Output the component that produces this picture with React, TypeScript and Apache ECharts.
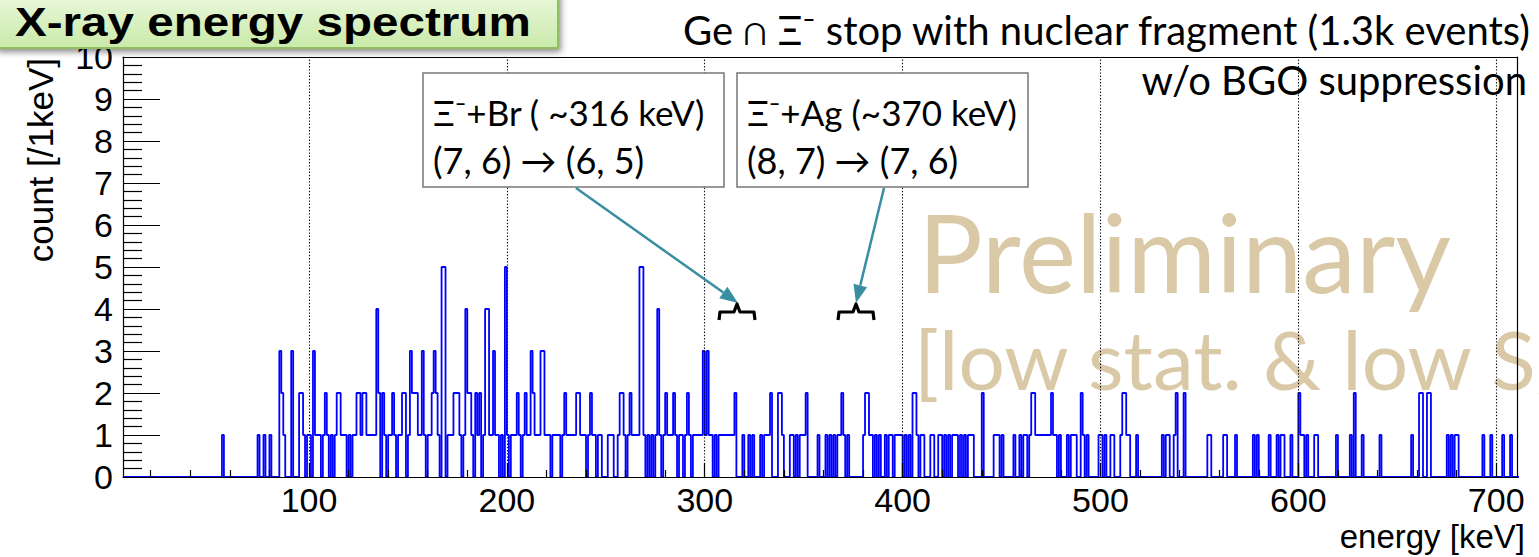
import React, { useEffect, useRef } from "react";
import * as echarts from "echarts";

const X_MIN = 6;
const X_MAX = 710.5;
const Y_MIN = 0;
const Y_MAX = 10;

const majorTicksKeV = [100, 200, 300, 400, 500, 600, 700];
const minorTicksKeV = [
  20, 40, 60, 80, 120, 140, 160, 180, 220, 240, 260, 280, 320, 340, 360, 380,
  420, 440, 460, 480, 520, 540, 560, 580, 620, 640, 660, 680,
];

// non-empty 1 keV bins (left edge in keV) and their counts
const binKeV = [
  56, 74, 77, 80, 85, 86, 87, 91, 95, 96, 97, 99, 100, 102, 103, 104, 105, 107, 108, 109,
  111, 113, 114, 115, 116, 117, 118, 120, 122, 123, 124, 125, 126, 127, 128, 129, 130, 131, 132, 133,
  134, 135, 137, 138, 140, 141, 142, 143, 145, 146, 147, 148, 150, 151, 152, 153, 154, 155, 156, 157,
  158, 160, 161, 162, 163, 164, 165, 167, 168, 170, 171, 172, 173, 174, 175, 176, 178, 179, 180, 181,
  182, 184, 185, 186, 188, 189, 190, 191, 192, 193, 194, 195, 197, 199, 200, 202, 203, 204, 205, 206,
  208, 209, 210, 211, 212, 213, 214, 215, 216, 217, 218, 219, 220, 221, 223, 224, 225, 226, 228, 229,
  230, 231, 232, 233, 234, 235, 236, 237, 238, 239, 241, 242, 243, 244, 246, 247, 251, 252, 253, 256,
  257, 258, 259, 261, 262, 263, 264, 265, 266, 267, 268, 269, 271, 273, 275, 276, 277, 279, 280, 281,
  282, 283, 284, 285, 287, 288, 290, 291, 292, 294, 295, 296, 297, 298, 299, 300, 301, 302, 303, 305,
  307, 308, 309, 310, 311, 312, 313, 314, 315, 319, 322, 324, 328, 330, 331, 332, 333, 337, 338, 339,
  343, 344, 346, 348, 349, 350, 351, 357, 361, 363, 365, 367, 368, 369, 370, 372, 380, 381, 382, 383,
  384, 386, 388, 391, 393, 394, 396, 397, 398, 399, 401, 403, 405, 406, 407, 409, 410, 414, 415, 418,
  419, 421, 423, 425, 426, 427, 429, 431, 433, 434, 435, 440, 446, 447, 448, 450, 456, 459, 461, 462,
  464, 465, 466, 467, 468, 469, 470, 471, 472, 473, 474, 475, 476, 477, 479, 483, 485, 486, 487, 490,
  491, 493, 499, 500, 502, 505, 506, 510, 511, 512, 513, 514, 518, 531, 533, 534, 537, 538, 542, 554,
  555, 562, 563, 568, 577, 579, 585, 589, 591, 592, 596, 600, 601, 602, 604, 608, 609, 619, 626, 628,
  632, 641, 657, 661, 662, 665, 666, 675, 677, 679, 680, 693, 697, 703, 707,
];
const binCount = [
  1, 1, 1, 1, 3, 2, 1, 3, 2, 2, 1, 1, 1, 3, 1, 1, 1, 1, 2, 1,
  1, 1, 2, 2, 1, 1, 1, 1, 1, 1, 2, 2, 1, 2, 2, 1, 1, 1, 1, 1,
  4, 2, 2, 1, 1, 1, 2, 1, 1, 1, 2, 2, 1, 3, 2, 2, 2, 1, 1, 3,
  1, 1, 1, 2, 3, 2, 1, 5, 5, 1, 1, 1, 2, 2, 2, 1, 1, 4, 2, 2,
  1, 2, 1, 2, 1, 4, 4, 1, 1, 3, 1, 1, 1, 5, 1, 1, 1, 1, 2, 1,
  1, 2, 1, 1, 3, 2, 1, 1, 1, 3, 3, 1, 1, 1, 1, 1, 1, 1, 1, 2,
  1, 1, 1, 1, 1, 2, 2, 1, 1, 1, 1, 2, 1, 1, 1, 1, 1, 1, 1, 1,
  2, 2, 1, 1, 2, 1, 1, 1, 1, 5, 5, 1, 1, 1, 1, 4, 1, 1, 2, 1,
  1, 1, 2, 1, 1, 1, 1, 2, 1, 1, 1, 1, 1, 1, 3, 1, 3, 1, 1, 1,
  1, 1, 1, 1, 1, 1, 1, 1, 2, 1, 1, 1, 1, 1, 1, 1, 2, 2, 2, 1,
  1, 1, 1, 1, 1, 1, 2, 1, 1, 1, 1, 1, 1, 2, 1, 1, 1, 2, 2, 1,
  1, 1, 1, 1, 1, 1, 1, 1, 1, 1, 1, 1, 2, 2, 1, 1, 1, 1, 1, 1,
  1, 1, 1, 1, 1, 1, 1, 1, 1, 1, 1, 2, 1, 1, 1, 1, 1, 1, 1, 1,
  1, 2, 2, 1, 1, 1, 1, 1, 1, 1, 1, 2, 1, 1, 1, 1, 1, 1, 1, 2,
  1, 1, 1, 1, 1, 1, 1, 1, 2, 2, 1, 1, 1, 1, 1, 1, 1, 2, 2, 1,
  1, 1, 1, 1, 1, 1, 1, 1, 1, 1, 1, 2, 1, 1, 1, 1, 1, 1, 1, 2,
  1, 1, 1, 2, 2, 2, 2, 1, 1, 1, 1, 1, 1, 1, 1,
];

const histColor = "#0000ff";
const tan = "#dac9a6";
const teal = "#3a8ea1";
const annFont = "Lato";
const axisFont = "Liberation Sans";

function buildHistogram(): [number, number][] {
  const map = new Map<number, number>();
  binKeV.forEach((k, i) => map.set(k, binCount[i]));
  const pts: [number, number][] = [];
  for (let k = Math.floor(X_MIN); k <= Math.ceil(X_MAX); k++) {
    pts.push([k, map.get(k) ?? 0]);
  }
  pts.push([Math.ceil(X_MAX) + 1, 0]);
  return pts;
}

export default function App() {
  const ref = useRef<HTMLDivElement>(null);

  useEffect(() => {
    if (!ref.current) return;
    const chart = echarts.init(ref.current, undefined, { renderer: "svg" });

    const arrow1 = { from: [576, 188], tip: [738, 303] };
    const arrow2 = { from: [884, 188], tip: [856, 303] };
    const head = (a: { from: number[]; tip: number[] }) => {
      const dx = a.tip[0] - a.from[0];
      const dy = a.tip[1] - a.from[1];
      const L = Math.hypot(dx, dy);
      const ux = dx / L, uy = dy / L;
      const bx = a.tip[0] - 18 * ux, by = a.tip[1] - 18 * uy;
      const nx = -uy, ny = ux;
      return {
        base: [bx, by],
        pts: [a.tip, [bx + 7 * nx, by + 7 * ny], [bx - 7 * nx, by - 7 * ny]],
      };
    };
    const h1 = head(arrow1);
    const h2 = head(arrow2);
    const bracket = (cx: number) => [
      [cx - 18, 320], [cx - 17, 312], [cx - 3, 312], [cx, 304],
      [cx + 3, 312], [cx + 17, 312], [cx + 18, 320],
    ];

    const option: any = {
      animation: false,
      backgroundColor: "#ffffff",
      grid: { left: 123, top: 57, width: 1394, height: 420, containLabel: false },
      xAxis: [
        {
          type: "value", min: X_MIN, max: X_MAX, position: "bottom", z: 5,
          axisLine: { show: true, onZero: false, lineStyle: { color: "#000", width: 1.2 } },
          axisTick: { show: true, inside: true, length: 14, customValues: majorTicksKeV, lineStyle: { color: "#000", width: 1.2 } },
          axisLabel: { customValues: majorTicksKeV, fontSize: 34, color: "#000", fontFamily: axisFont, margin: 6 },
          splitLine: { show: false },
        },
        {
          type: "value", min: X_MIN, max: X_MAX, position: "bottom", z: 5,
          axisLine: { show: false },
          axisTick: { show: true, inside: true, length: 7, customValues: minorTicksKeV, lineStyle: { color: "#000", width: 1.2 } },
          axisLabel: { show: false },
          splitLine: { show: false },
        },
        {
          type: "value", min: X_MIN, max: X_MAX, position: "top", z: 5,
          axisLine: { show: true, onZero: false, lineStyle: { color: "#000", width: 1.2 } },
          axisTick: { show: false }, axisLabel: { show: false }, splitLine: { show: false },
        },
      ],
      yAxis: [
        {
          type: "value", min: Y_MIN, max: Y_MAX, interval: 1, position: "left", z: 5,
          axisLine: { show: true, onZero: false, lineStyle: { color: "#000", width: 1.2 } },
          axisTick: { show: true, inside: true, length: 37, lineStyle: { color: "#000", width: 1.2 } },
          minorTick: { show: true, splitNumber: 5, length: 19, lineStyle: { color: "#000", width: 1.2 } },
          axisLabel: { fontSize: 34, color: "#000", fontFamily: axisFont, margin: 10 },
          splitLine: { show: false },
        },
        {
          type: "value", min: Y_MIN, max: Y_MAX, position: "right", z: 5,
          axisLine: { show: true, onZero: false, lineStyle: { color: "#000", width: 1.2 } },
          axisTick: { show: false }, axisLabel: { show: false }, splitLine: { show: false },
        },
      ],
      series: [
        {
          type: "line",
          xAxisIndex: 0,
          yAxisIndex: 0,
          step: "end",
          data: buildHistogram(),
          symbol: "none",
          showSymbol: false,
          silent: true,
          clip: true,
          lineStyle: { color: histColor, width: 1.8 },
          z: 3,
          markLine: {
            silent: true,
            symbol: ["none", "none"],
            label: { show: false },
            lineStyle: { color: "#111", width: 1.1, type: [1.4, 1.8] },
            data: majorTicksKeV.map((v) => ({ xAxis: v })),
          },
        },
      ],
      graphic: [
        // watermark texts
        { type: "text", z: 0, x: 918, y: 251, style: { text: "Preliminary", font: `108px ${annFont}`, fill: tan, verticalAlign: "middle" } },
        { type: "text", z: 0, x: 914, y: 358, style: { text: "[low stat. & low S/N]", font: `82px ${annFont}`, fill: tan, verticalAlign: "middle" } },
        // top-right texts
        { type: "text", z: 20, x: 1530, y: 30, style: { text: "Ge ∩ Ξ⁻ stop with nuclear fragment (1.3k events)", font: `40px ${annFont}`, fill: "#000", align: "right", verticalAlign: "middle" } },
        { type: "text", z: 20, x: 1527, y: 80, style: { text: "w/o BGO suppression", font: `40px ${annFont}`, fill: "#000", align: "right", verticalAlign: "middle" } },
        // annotation boxes
        { type: "rect", z: 20, shape: { x: 423, y: 73, width: 301, height: 114 }, style: { fill: "#fff", stroke: "#777", lineWidth: 1.5 } },
        { type: "text", z: 21, x: 433, y: 112, style: { text: "Ξ⁻+Br ( ~316 keV)", font: `35px ${annFont}`, fill: "#000", verticalAlign: "middle" } },
        { type: "text", z: 21, x: 433, y: 160, style: { text: "(7, 6) → (6, 5)", font: `36px ${annFont}`, fill: "#000", verticalAlign: "middle" } },
        { type: "rect", z: 20, shape: { x: 737, y: 73, width: 291, height: 114 }, style: { fill: "#fff", stroke: "#777", lineWidth: 1.5 } },
        { type: "text", z: 21, x: 747, y: 112, style: { text: "Ξ⁻+Ag (~370 keV)", font: `35px ${annFont}`, fill: "#000", verticalAlign: "middle" } },
        { type: "text", z: 21, x: 747, y: 160, style: { text: "(8, 7) → (7, 6)", font: `36px ${annFont}`, fill: "#000", verticalAlign: "middle" } },
        // arrows
        { type: "line", z: 20, shape: { x1: arrow1.from[0], y1: arrow1.from[1], x2: h1.base[0], y2: h1.base[1] }, style: { stroke: teal, lineWidth: 2.5 } },
        { type: "polygon", z: 20, shape: { points: h1.pts }, style: { fill: teal } },
        { type: "line", z: 20, shape: { x1: arrow2.from[0], y1: arrow2.from[1], x2: h2.base[0], y2: h2.base[1] }, style: { stroke: teal, lineWidth: 2.5 } },
        { type: "polygon", z: 20, shape: { points: h2.pts }, style: { fill: teal } },
        // brackets
        { type: "polyline", z: 20, shape: { points: bracket(737) }, style: { stroke: "#000", lineWidth: 3.2, fill: "none", lineJoin: "round" } },
        { type: "polyline", z: 20, shape: { points: bracket(856) }, style: { stroke: "#000", lineWidth: 3.2, fill: "none", lineJoin: "round" } },
        // axis titles
        { type: "text", z: 20, x: 1525, y: 536, style: { text: "energy [keV]", font: `33px ${axisFont}`, fill: "#000", align: "right", verticalAlign: "middle" } },
        { type: "text", z: 20, x: 40, y: 58, rotation: Math.PI / 2, style: { text: "count [/1keV]", font: `35px ${axisFont}`, fill: "#000", align: "right", verticalAlign: "middle" } },
        // title box
        {
          type: "rect", z: 50, shape: { x: -4, y: -6, width: 562, height: 54 },
          style: {
            fill: new echarts.graphic.LinearGradient(0, 0, 0, 1, [
              { offset: 0, color: "#eaf8dc" },
              { offset: 1, color: "#c9eaa9" },
            ]),
            stroke: "#8fbd5e", lineWidth: 2,
            shadowBlur: 6, shadowColor: "rgba(0,0,0,0.45)", shadowOffsetX: 2, shadowOffsetY: 3,
          },
        },
        { type: "text", z: 51, x: 15, y: 22, scaleX: 1.19, style: { text: "X-ray energy spectrum", font: `bold 40px ${axisFont}`, fill: "#000", verticalAlign: "middle" } },
      ],
    };

    chart.setOption(option);
    return () => chart.dispose();
  }, []);

  return (
    <div
      ref={ref}
      style={{ position: "fixed", left: 0, top: 0, width: 1539, height: 557, background: "#fff" }}
    />
  );
}
